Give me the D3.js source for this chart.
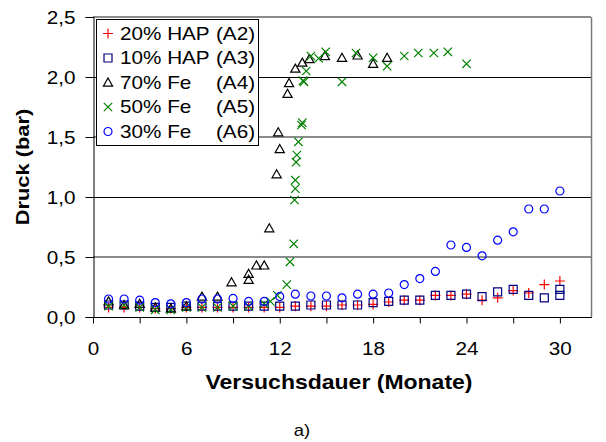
<!DOCTYPE html>
<html>
<head>
<meta charset="utf-8">
<script src="https://cdn.jsdelivr.net/npm/d3@7"></script>
<style>
  body { margin: 0; background: #fff; }
  svg { font-family: Arial, "Liberation Sans", sans-serif; }
  .wide { transform-box: fill-box; transform: scaleX(1.15); }
  .wl { transform-origin: left center; }
  .wr { transform-origin: right center; }
  .wc { transform-origin: center center; }
</style>
</head>
<body>
<script>
// values (months, bar)
const a2Months = [1,2,3,4,5,6,7,8,9,10,11,12,13,14,15,16,17,18,19,20,21,22,23,24,25,26,27,28,29,30];
const a2Druck  = [0.08,0.08,0.08,0.07,0.07,0.08,0.08,0.08,0.08,0.08,0.08,0.08,0.09,0.09,0.09,0.1,0.1,0.105,0.125,0.14,0.14,0.18,0.18,0.19,0.14,0.16,0.22,0.2,0.27,0.3];

const a3Months = [1,2,3,4,5,6,7,8,9,10,11,12,13,14,15,16,17,18,19,20,21,22,23,24,25,26,27,28,29,30,30];
const a3Druck  = [0.1,0.1,0.09,0.08,0.08,0.09,0.09,0.09,0.09,0.09,0.09,0.09,0.09,0.1,0.1,0.1,0.1,0.12,0.13,0.14,0.14,0.18,0.18,0.19,0.17,0.21,0.23,0.18,0.16,0.23,0.18];

const a4Months = [1,2,3,4,5,6,7,8,8.9,10,10,10.5,11,11.33,11.8,11.9,12,12.5,12.6,13,13.45,13.9,14.9,16,17,18,18.9];
const a4Druck  = [0.13,0.1,0.11,0.08,0.07,0.09,0.17,0.17,0.29,0.31,0.36,0.43,0.43,0.74,1.19,1.54,1.4,1.86,1.95,2.07,2.12,2.15,2.175,2.16,2.18,2.11,2.16];

const a5Months = [1,2,3,4,5,6,7,8,9,10,11,11.4,11.85,12.45,12.66,12.9,12.95,13,13,13.05,13.1,13.2,13.4,13.45,13.5,13.55,13.7,14,14.5,14.95,16,16.9,18,18.9,20,20.9,21.9,22.8,24];
const a5Druck  = [0.09,0.1,0.08,0.06,0.06,0.08,0.08,0.08,0.09,0.09,0.11,0.13,0.18,0.27,0.46,0.61,0.975,1.07,1.14,1.29,1.35,1.46,1.6,1.62,1.97,1.96,2.05,2.175,2.155,2.21,1.96,2.2,2.16,2.09,2.175,2.2,2.2,2.21,2.11];

const a6Months = [1,2,3,4,5,6,7,8,9,10,11,12,13,14,15,16,17,18,19,20,21,22,23,24,25,26,27,28,29,30];
const a6Druck  = [0.15,0.15,0.14,0.12,0.11,0.12,0.15,0.15,0.155,0.13,0.13,0.17,0.19,0.175,0.175,0.16,0.19,0.19,0.2,0.27,0.32,0.38,0.6,0.58,0.51,0.64,0.71,0.9,0.9,1.05];

const seriesNames = ["20% HAP", "10% HAP", "70% Fe", "50% Fe", "30% Fe"];
const seriesCodes = ["(A2)", "(A3)", "(A4)", "(A5)", "(A6)"];
const yTicks = [0, 0.5, 1, 1.5, 2, 2.5];
const xTicks = [0, 6, 12, 18, 24, 30];
const xMinorTicks = [0, 3, 6, 9, 12, 15, 18, 21, 24, 27, 30];

const width = 606, height = 442;
const plotLeft = 93, plotRight = 591, plotTop = 17, plotBottom = 317;

const svg = d3.select("body").append("svg")
  .attr("width", width)
  .attr("height", height);

const x = d3.scaleLinear().domain([0, 32]).range([plotLeft, plotRight]);
const y = d3.scaleLinear().domain([0, 2.5]).range([plotBottom, plotTop]);
const fmt = d => d3.format(".1f")(d).replace(".", ",");

// gridlines (the picture alternates crisp black and soft grey lines)
svg.append("g").selectAll("line")
  .data(yTicks.slice(1))
  .join("line")
  .attr("x1", plotLeft).attr("x2", plotRight)
  .attr("y1", d => Math.round(y(d)) + (d % 1 === 0 ? 0.5 : 0))
  .attr("y2", d => Math.round(y(d)) + (d % 1 === 0 ? 0.5 : 0))
  .attr("stroke", d => d % 1 === 0 ? "#000" : "#8c8c8c")
  .attr("stroke-width", d => d % 1 === 0 ? 1 : 2);

// right frame
svg.append("line")
  .attr("x1", plotRight + 0.5).attr("x2", plotRight + 0.5)
  .attr("y1", plotTop).attr("y2", plotBottom)
  .attr("stroke", "#7a7a7a").attr("stroke-width", 1.5);

// y axis
const yAxis = svg.append("g")
  .attr("transform", `translate(${plotLeft + 0.5},0)`)
  .call(d3.axisLeft(y).tickValues(yTicks).tickFormat(fmt).tickSize(8).tickPadding(10));
yAxis.select(".domain").attr("stroke", "#000");
yAxis.selectAll("text")
  .attr("font-size", 18).attr("fill", "#000")
  .attr("dy", "0.36em")
  .attr("class", "wide wr");
yAxis.attr("font-family", null);

// x axis
const xAxis = svg.append("g")
  .attr("transform", `translate(0,${plotBottom + 0.5})`)
  .call(d3.axisBottom(x).tickValues(xMinorTicks).tickFormat(d => xTicks.includes(d) ? d : "").tickSize(6).tickPadding(19));
xAxis.select(".domain").attr("d", `M${plotLeft},0H${plotRight + 1}`).attr("stroke", "#000");
xAxis.selectAll("text")
  .attr("font-size", 18).attr("fill", "#000")
  .attr("class", "wide wc");
xAxis.attr("font-family", null);

// axis titles
svg.append("text")
  .attr("x", (plotLeft + plotRight) / 2 - 3).attr("y", 389)
  .attr("text-anchor", "middle")
  .attr("font-size", 20).attr("font-weight", "bold")
  .attr("class", "wide wc")
  .text("Versuchsdauer (Monate)");

svg.append("g")
  .attr("transform", "translate(29,167) rotate(-90)")
  .append("text")
  .attr("text-anchor", "middle")
  .attr("font-size", 19).attr("font-weight", "bold")
  .attr("class", "wide wc")
  .text("Druck (bar)");

svg.append("text")
  .attr("x", 302).attr("y", 436)
  .attr("text-anchor", "middle")
  .attr("font-size", 16)
  .attr("class", "wide wc")
  .text("a)");

// marker shapes
const markers = [
  { color: "#ff0000", path: "M-5,0H5M0,-5V5" },
  { color: "#000080", path: "M-4,-4H4V4H-4Z" },
  { color: "#000000", path: "M0,-4.5L4.6,3.6H-4.6Z" },
  { color: "#008000", path: "M-4.2,-4.2L4.2,4.2M-4.2,4.2L4.2,-4.2" },
  { color: "#0000ff", path: "M-4,0A4,4 0 1,0 4,0A4,4 0 1,0 -4,0Z" }
];

const series = [
  d3.zip(a2Months, a2Druck),
  d3.zip(a3Months, a3Druck),
  d3.zip(a4Months, a4Druck),
  d3.zip(a5Months, a5Druck),
  d3.zip(a6Months, a6Druck)
];

series.forEach((pts, i) => {
  svg.append("g").selectAll("path")
    .data(pts)
    .join("path")
    .attr("transform", d => `translate(${x(d[0])},${y(d[1])})`)
    .attr("d", markers[i].path)
    .attr("fill", "none")
    .attr("stroke", markers[i].color)
    .attr("stroke-width", 1.2);
});

// legend
const legend = svg.append("g");
legend.append("rect")
  .attr("x", 96.5).attr("y", 19.5)
  .attr("width", 162).attr("height", 126)
  .attr("fill", "#fff").attr("stroke", "#000").attr("stroke-width", 1);

seriesNames.forEach((name, i) => {
  const cy = 33.5 + i * 24.5;
  legend.append("path")
    .attr("transform", `translate(108,${cy})`)
    .attr("d", markers[i].path)
    .attr("fill", "none")
    .attr("stroke", markers[i].color)
    .attr("stroke-width", 1.2);
  legend.append("text")
    .attr("x", 120).attr("y", cy + 6.5)
    .attr("font-size", 18)
    .attr("class", "wide wl")
    .text(name);
  legend.append("text")
    .attr("x", 216).attr("y", cy + 6.5)
    .attr("font-size", 18)
    .attr("class", "wide wl")
    .text(seriesCodes[i]);
});
</script>
</body>
</html>
